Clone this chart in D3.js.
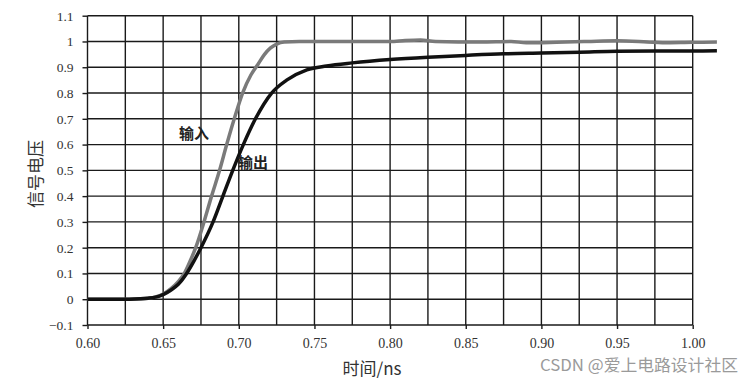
<!DOCTYPE html>
<html><head><meta charset="utf-8">
<script src="https://cdn.jsdelivr.net/npm/d3@7"></script>
<style>html,body{margin:0;padding:0;background:#fff;}svg{display:block;}</style>
</head><body>
<svg id="c" width="747" height="380"></svg>
<script>
// ---- data ----
const xTicks = [0.60,0.65,0.70,0.75,0.80,0.85,0.90,0.95,1.00];
const xTickLabels = ["0.60","0.65","0.70","0.75","0.80","0.85","0.90","0.95","1.00"];
const yTicks = [-0.1,0,0.1,0.2,0.3,0.4,0.5,0.6,0.7,0.8,0.9,1,1.1];
const yTickLabels = ["−0.1","0","0.1","0.2","0.3","0.4","0.5","0.6","0.7","0.8","0.9","1","1.1"];
const inputT = [0.600,0.620,0.635,0.640,0.645,0.650,0.655,0.660,0.664,0.668,0.6715,0.677,0.682,0.6873,0.692,0.697,0.7025,0.708,0.7125,0.717,0.721,0.725,0.730,0.740,0.760,0.800,0.810,0.820,0.830,0.860,0.880,0.890,0.910,0.930,0.950,0.970,0.980,1.000,1.016];
const inputV = [0,0,0.002,0.004,0.009,0.02,0.04,0.068,0.1,0.15,0.2,0.3,0.4,0.5,0.6,0.7,0.8,0.87,0.91,0.95,0.975,0.99,0.998,1.0,1.0,1.0,1.004,1.006,1.0,0.998,1.0,0.995,0.997,1.0,1.003,0.998,0.995,0.997,0.998];
const outputT = [0.600,0.620,0.635,0.640,0.645,0.650,0.655,0.660,0.6655,0.6705,0.675,0.683,0.6895,0.696,0.703,0.711,0.7217,0.7316,0.745,0.758,0.775,0.800,0.825,0.850,0.875,0.900,0.925,0.950,0.975,1.000,1.016];
const outputV = [0,0,0.002,0.004,0.008,0.018,0.035,0.058,0.1,0.15,0.2,0.3,0.4,0.5,0.6,0.7,0.8,0.85,0.89,0.905,0.917,0.93,0.939,0.946,0.952,0.955,0.958,0.962,0.963,0.963,0.964];
const seriesLabels = ["输入","输出"];
const xTitle = "时间/ns";
const yTitle = "信号电压";
const watermark = "CSDN @爱上电路设计社区";

// ---- layout ----
const svg = d3.select("#c");
const x = d3.scaleLinear().domain([0.6,1.0]).range([87.5,692.7]);
const y = d3.scaleLinear().domain([-0.1,1.1]).range([325,15.7]);
const serif = "'Liberation Serif','Times New Roman',serif";
const sans = "'Noto Sans CJK SC','Noto Sans',sans-serif";

// grid
const vGrid = d3.range(0,17).map(i=>0.6+i*0.025);
svg.append("g").selectAll("line").data(vGrid).join("line")
  .attr("x1",d=>x(d)).attr("x2",d=>x(d)).attr("y1",y(1.1)).attr("y2",y(-0.1))
  .attr("stroke","#1a1a1a").attr("stroke-width",1.4);
svg.append("g").selectAll("line").data(yTicks).join("line")
  .attr("x1",x(0.6)).attr("x2",x(1.0)).attr("y1",d=>y(d)).attr("y2",d=>y(d))
  .attr("stroke","#1a1a1a").attr("stroke-width",1.4);

// axes
const xAxis = d3.axisBottom(x).tickValues(xTicks).tickSize(4).tickPadding(9)
  .tickFormat((d,i)=>xTickLabels[i]);
const gx = svg.append("g").attr("transform",`translate(0,${y(-0.1)})`).call(xAxis);
const yAxis = d3.axisLeft(y).tickValues(yTicks).tickSize(5).tickPadding(9)
  .tickFormat((d,i)=>yTickLabels[i]);
const gy = svg.append("g").attr("transform",`translate(${x(0.6)},0)`).call(yAxis);
[gx,gy].forEach(g=>{
  g.select(".domain").remove();
  g.selectAll(".tick line").attr("stroke","#1a1a1a").attr("stroke-width",1.4);
  g.selectAll(".tick text").attr("font-family",serif).attr("font-size",14).attr("fill","#333");
});
gy.selectAll(".tick text").attr("font-size",13.5);

// lines
const line = d3.line().x(d=>x(d[0])).y(d=>y(d[1])).curve(d3.curveMonotoneX);
svg.append("path").datum(inputT.map((t,i)=>[t,inputV[i]]))
  .attr("d",line).attr("fill","none").attr("stroke","#7a7a7a").attr("stroke-width",3.5);
svg.append("path").datum(outputT.map((t,i)=>[t,outputV[i]]))
  .attr("d",line).attr("fill","none").attr("stroke","#111").attr("stroke-width",3.5);

// series labels
svg.append("text").attr("x",x(0.6605)).attr("y",y(0.62)).text(seriesLabels[0])
  .attr("font-family",sans).attr("font-size",15).attr("font-weight","bold").attr("fill","#222");
svg.append("text").attr("x",x(0.6995)).attr("y",y(0.51)).text(seriesLabels[1])
  .attr("font-family",sans).attr("font-size",15).attr("font-weight","bold").attr("fill","#222");

// titles
svg.append("text").attr("x",372).attr("y",375).attr("text-anchor","middle").text(xTitle)
  .attr("font-family",sans).attr("font-size",17).attr("fill","#333");
svg.append("text").attr("transform","translate(42,174) rotate(-90)").attr("text-anchor","middle").text(yTitle)
  .attr("font-family",sans).attr("font-size",17).attr("fill","#333");

// watermark
svg.append("text").attr("x",540).attr("y",371).text(watermark)
  .attr("textLength",198).attr("lengthAdjust","spacingAndGlyphs")
  .attr("font-family",sans).attr("font-size",16).attr("fill","#9a9a9a");
</script>
</body></html>
